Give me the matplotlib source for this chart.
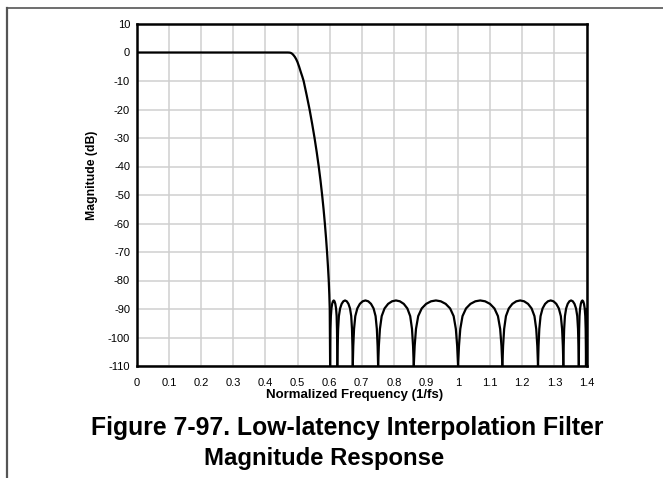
import matplotlib
matplotlib.use("Agg")
import matplotlib.pyplot as plt
from matplotlib.lines import Line2D

plt.rcParams['font.family'] = ['Liberation Sans', 'DejaVu Sans']

# ---- data ----
# passband + transition band (normalized frequency, dB)
trans_freq = [0.0, 0.47, 0.476, 0.48, 0.484, 0.488, 0.492, 0.496, 0.5, 0.505, 0.51, 0.515,
              0.519, 0.5285, 0.5375, 0.5455, 0.553, 0.5598, 0.566, 0.5716, 0.5766, 0.5811,
              0.5851, 0.5887, 0.5919, 0.5947, 0.5972, 0.599, 0.6003, 0.6015]
trans_db = [0.0, 0.0, -0.05, -0.2, -0.5, -1.0, -1.6, -2.4, -3.4, -5.0, -6.8, -8.5,
            -10.0, -15.0, -20.0, -25.0, -30.0, -35.0, -40.0, -45.0, -50.0, -55.0,
            -60.0, -65.0, -70.0, -75.0, -80.0, -85.0, -90.0, -110.0]

# stopband lobes: frequencies of each lobe (null .. peak .. null)
lobe_freqs = [
    [0.6015, 0.6020, 0.6026, 0.6038, 0.6056, 0.6078, 0.6103, 0.6128, 0.6152, 0.6177, 0.6200, 0.6218, 0.6229, 0.6235, 0.6240],
    [0.6240, 0.6250, 0.6264, 0.6288, 0.6326, 0.6374, 0.6427, 0.6480, 0.6533, 0.6586, 0.6634, 0.6672, 0.6696, 0.6710, 0.6720],
    [0.6720, 0.6736, 0.6760, 0.6799, 0.6862, 0.6941, 0.7028, 0.7115, 0.7202, 0.7289, 0.7368, 0.7431, 0.7470, 0.7494, 0.7510],
    [0.7510, 0.7532, 0.7566, 0.7621, 0.7710, 0.7821, 0.7943, 0.8065, 0.8187, 0.8309, 0.8420, 0.8509, 0.8565, 0.8598, 0.8620],
    [0.8620, 0.8648, 0.8689, 0.8758, 0.8868, 0.9006, 0.9158, 0.9310, 0.9462, 0.9614, 0.9752, 0.9862, 0.9931, 0.9972, 1.0000],
    [1.0000, 1.0028, 1.0069, 1.0138, 1.0248, 1.0386, 1.0538, 1.0690, 1.0842, 1.0994, 1.1132, 1.1242, 1.1311, 1.1352, 1.1380],
    [1.1380, 1.1402, 1.1435, 1.1491, 1.1580, 1.1691, 1.1813, 1.1935, 1.2057, 1.2179, 1.2290, 1.2379, 1.2434, 1.2468, 1.2490],
    [1.2490, 1.2506, 1.2530, 1.2569, 1.2632, 1.2711, 1.2798, 1.2885, 1.2972, 1.3059, 1.3138, 1.3201, 1.3240, 1.3264, 1.3280],
    [1.3280, 1.3290, 1.3304, 1.3328, 1.3366, 1.3414, 1.3467, 1.3520, 1.3573, 1.3626, 1.3674, 1.3712, 1.3736, 1.3750, 1.3760],
    [1.3760, 1.3765, 1.3771, 1.3782, 1.3800, 1.3823, 1.3848, 1.3872, 1.3897, 1.3922, 1.3944, 1.3962, 1.3974, 1.3980, 1.3985],
]
# magnitude (dB) at the matching points of every lobe
lobe_db = [-110.0, -103.0, -97.0, -92.5, -89.8, -88.2, -87.3, -87.0,
           -87.3, -88.2, -89.8, -92.5, -97.0, -103.0, -110.0]

edge_freq = [1.3985, 1.4]
edge_db = [-110.0, -90.0]

x_ticks = [0, 0.1, 0.2, 0.3, 0.4, 0.5, 0.6, 0.7, 0.8, 0.9, 1.0, 1.1, 1.2, 1.3, 1.4]
x_tick_labels = ['0', '0.1', '0.2', '0.3', '0.4', '0.5', '0.6', '0.7', '0.8', '0.9',
                 '1', '1.1', '1.2', '1.3', '1.4']
y_ticks = [10, 0, -10, -20, -30, -40, -50, -60, -70, -80, -90, -100, -110]
y_tick_labels = ['10', '0', '-10', '-20', '-30', '-40', '-50', '-60', '-70', '-80', '-90', '-100', '-110']

x_label = 'Normalized Frequency (1/fs)'
y_label = 'Magnitude (dB)'
title_lines = ['Figure 7-97. Low-latency Interpolation Filter', 'Magnitude Response']

# ---- figure ----
W, H = 663, 478
fig = plt.figure(figsize=(W / 100, H / 100), dpi=100)
fig.patch.set_facecolor('white')

ax_l, ax_r, ax_t, ax_b = 137, 586.5, 24, 366
ax = fig.add_axes([ax_l / W, 1 - ax_b / H, (ax_r - ax_l) / W, (ax_b - ax_t) / H])

line_kw = dict(color='black', lw=1.6, solid_joinstyle='round', zorder=3)
ax.plot(trans_freq, trans_db, **line_kw)
for lf in lobe_freqs:
    ax.plot(lf, lobe_db, **line_kw)
ax.plot(edge_freq, edge_db, **line_kw)

ax.set_xlim(0, 1.4)
ax.set_ylim(-110, 10)
ax.set_xticks(x_ticks)
ax.set_xticklabels(x_tick_labels)
ax.set_yticks(y_ticks)
ax.set_yticklabels(y_tick_labels)
ax.tick_params(axis='both', length=0, labelsize=8, colors='black')
ax.tick_params(axis='x', pad=9)
ax.tick_params(axis='y', pad=5)
ax.grid(True, color='#cfcfcf', lw=1.1, zorder=0)
ax.set_axisbelow(True)
for s in ax.spines.values():
    s.set_linewidth(1.8)
    s.set_color('black')

ax.set_xlabel(x_label, fontsize=9.5, fontweight='bold')
ax.xaxis.set_label_coords((355 - ax_l) / (ax_r - ax_l), -(395 - ax_b) / (ax_b - ax_t), transform=ax.transAxes)
ax.xaxis.label.set_va('center')
ax.set_ylabel(y_label, fontsize=8.8, fontweight='bold')
ax.yaxis.set_label_coords(-(ax_l - 92) / (ax_r - ax_l), (ax_b - 175) / (ax_b - ax_t), transform=ax.transAxes)
ax.yaxis.label.set_va('center')

fig.text(347 / W, 1 - 428 / H, title_lines[0], ha='center', va='center', fontsize=17.8, fontweight='bold')
fig.text(324 / W, 1 - 459 / H, title_lines[1], ha='center', va='center', fontsize=17.2, fontweight='bold')

# page frame lines
fig.add_artist(Line2D([6.5 / W, 1.0], [1 - 8 / H, 1 - 8 / H], transform=fig.transFigure, color='#555555', lw=1.2))
fig.add_artist(Line2D([6.5 / W, 6.5 / W], [1 - 8 / H, 0.0], transform=fig.transFigure, color='#555555', lw=1.6))

fig.savefig('out.png', dpi=100, facecolor='white')
